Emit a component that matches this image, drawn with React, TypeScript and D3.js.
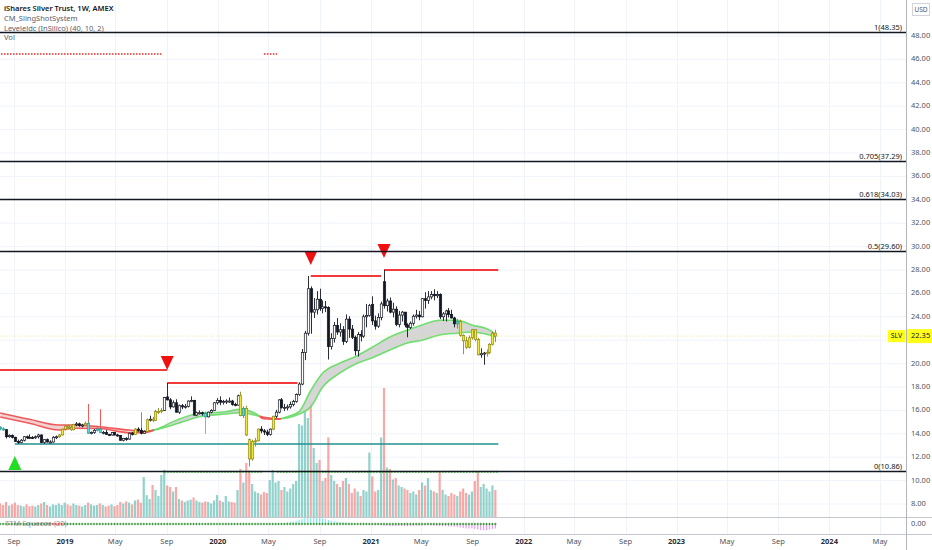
import React, { useEffect, useRef } from "react";
import * as d3 from "d3";

const W = 932;
const H = 550;

// weekly bars, first one is the week of 2018-07-30
const firstWeek = new Date(2018, 6, 30);

// [open, high, low, close] per week
const ohlc: [number, number, number, number][] = [
  [14.55, 14.65, 14.3, 14.42], [14.42, 14.55, 14.25, 14.35], [14.35, 14.4, 13.6, 13.75], [13.75, 13.95, 13.65, 13.85],
  [13.85, 13.95, 13.6, 13.7], [13.7, 13.75, 13.3, 13.35], [13.35, 13.5, 13.15, 13.25], [13.25, 13.55, 13.2, 13.45],
  [13.45, 13.8, 13.35, 13.75], [13.75, 13.85, 13.55, 13.7], // 10
  [13.7, 13.95, 13.6, 13.68], [13.68, 13.8, 13.55, 13.66], [13.66, 13.85, 13.55, 13.75], [13.75, 14.0, 13.6, 13.9],
  [13.9, 13.95, 13.2, 13.25], [13.25, 13.55, 13.15, 13.5], [13.5, 13.6, 13.25, 13.3], [13.3, 13.45, 13.2, 13.3],
  [13.3, 13.8, 13.25, 13.7], [13.7, 13.85, 13.55, 13.75], // 20
  [13.75, 14.0, 13.65, 13.9], [13.9, 14.45, 13.85, 14.4], [14.4, 14.75, 14.3, 14.65], [14.65, 14.8, 14.45, 14.55],
  [14.55, 14.7, 14.25, 14.35], [14.35, 14.85, 14.3, 14.8], [14.8, 15.0, 14.65, 14.85], [14.85, 14.95, 14.6, 14.7],
  [14.7, 14.85, 14.55, 14.75], [14.75, 15.05, 14.7, 14.9], // 30
  [14.9, 15.0, 14.0, 14.05], [14.05, 14.2, 13.95, 14.1], [14.1, 14.4, 14.0, 14.3], [14.3, 14.55, 14.2, 14.4],
  [14.4, 14.5, 14.05, 14.1], [14.1, 14.25, 13.95, 14.1], [14.1, 14.35, 13.9, 13.95], [13.95, 14.0, 13.8, 13.9],
  [13.9, 14.15, 13.85, 14.1], [14.1, 14.15, 13.85, 13.9], // 40
  [13.9, 14.0, 13.75, 13.85], [13.85, 13.9, 13.4, 13.45], [13.45, 13.65, 13.35, 13.6], [13.6, 13.7, 13.4, 13.55],
  [13.55, 14.1, 13.5, 14.05], [14.05, 14.15, 13.85, 13.95], [13.95, 14.5, 13.9, 14.4], [14.4, 14.55, 14.2, 14.3],
  [14.3, 14.5, 13.95, 14.05], [14.05, 14.3, 14.0, 14.2], // 50
  [14.2, 15.3, 14.15, 15.2], [15.2, 15.55, 15.05, 15.25], [15.25, 15.45, 15.0, 15.15], [15.15, 16.05, 15.1, 15.9],
  [15.9, 16.2, 15.7, 15.9], [15.9, 16.2, 15.75, 16.0], [16.0, 17.15, 15.95, 17.1], [17.15, 18.34, 16.85, 16.9],
  [16.9, 17.05, 16.1, 16.3], [16.3, 16.85, 16.25, 16.65], // 60
  [16.65, 16.95, 15.8, 15.85], [15.85, 16.5, 15.7, 16.4], [16.4, 16.55, 16.1, 16.3], [16.3, 16.55, 16.15, 16.35],
  [16.35, 16.85, 16.25, 16.8], [16.8, 17.2, 16.7, 16.85], [16.85, 16.9, 15.55, 15.6], [15.6, 15.9, 15.5, 15.8],
  [15.8, 16.0, 15.65, 15.8], [15.8, 15.9, 15.55, 15.75], // 70
  [15.75, 15.9, 15.4, 15.45], [15.45, 15.9, 15.4, 15.85], [15.85, 16.1, 15.75, 16.0], [16.0, 16.7, 15.95, 16.65],
  [16.65, 17.05, 16.5, 16.85], [16.85, 17.2, 16.45, 16.7], [16.7, 16.9, 16.5, 16.75], [16.75, 16.95, 16.55, 16.8],
  [16.8, 17.1, 16.65, 16.8], [16.8, 16.9, 16.4, 16.5], // 80
  [16.5, 16.65, 16.35, 16.45], [16.45, 17.35, 16.4, 17.25], [17.25, 17.6, 15.5, 15.55], [15.55, 16.35, 15.35, 16.15],
  [16.15, 16.4, 13.8, 13.9], [13.5, 13.6, 11.21, 11.85], [11.85, 13.5, 11.7, 13.35], [13.35, 13.65, 12.9, 13.4],
  [13.4, 14.45, 13.35, 14.4], [14.4, 14.65, 14.05, 14.25], // 90
  [14.25, 14.4, 13.9, 14.15], [14.15, 14.35, 13.8, 13.95], [13.95, 14.45, 13.85, 14.4], [14.4, 15.55, 14.3, 15.5],
  [15.5, 16.05, 15.35, 15.85], [15.85, 16.95, 15.75, 16.9], [16.9, 17.05, 16.15, 16.25], [16.25, 16.55, 15.95, 16.25],
  [16.25, 16.5, 16.0, 16.3], [16.3, 16.75, 16.15, 16.5], // 100
  [16.5, 16.9, 16.35, 16.75], [16.75, 17.45, 16.65, 17.35], [17.35, 18.4, 17.25, 18.25], [18.25, 21.25, 18.15, 20.95],
  [20.95, 22.8, 20.3, 22.6], [22.6, 27.49, 22.4, 26.4], [26.4, 26.6, 22.55, 24.4], [24.4, 25.6, 23.9, 24.6],
  [24.6, 26.2, 24.2, 25.5], [25.5, 26.4, 24.5, 24.7], // 110
  [24.7, 25.4, 24.3, 24.85], [24.85, 25.35, 24.4, 24.8], [24.8, 24.9, 20.35, 21.45], [21.45, 22.6, 21.2, 22.15],
  [22.15, 23.55, 21.8, 23.25], [23.25, 23.9, 22.45, 22.7], [22.7, 23.45, 22.3, 22.9], [22.9, 23.2, 21.6, 21.9],
  [21.9, 24.2, 21.75, 23.8], [23.8, 24.05, 22.2, 22.95], // 120
  [22.95, 23.3, 22.1, 22.25], [22.25, 22.4, 20.7, 21.1], [21.1, 22.7, 20.6, 22.5], [22.5, 22.85, 21.9, 22.35],
  [22.35, 24.2, 22.2, 24.0], [24.0, 25.1, 23.1, 24.1], [24.1, 25.1, 24.0, 24.95], [25.05, 25.75, 23.3, 23.65],
  [23.65, 24.1, 22.9, 23.2], [23.2, 24.3, 23.05, 23.95], // 130
  [23.95, 25.3, 23.7, 25.1], [27.0, 28.0, 24.7, 24.95], [24.95, 25.55, 24.45, 25.35], [25.35, 25.65, 24.3, 24.4],
  [24.4, 25.2, 23.95, 24.65], [24.65, 24.9, 23.2, 23.35], [23.35, 24.5, 23.1, 24.15], [24.15, 24.5, 23.6, 24.4],
  [24.4, 24.4, 23.1, 23.3], [23.3, 23.45, 22.25, 23.1], // 140
  [23.1, 23.6, 22.95, 23.45], [23.45, 24.2, 23.25, 24.05], [24.05, 24.6, 23.85, 24.15], [24.15, 24.5, 23.7, 24.0],
  [24.0, 25.6, 23.95, 25.55], [25.55, 26.1, 24.7, 25.4], [25.4, 26.2, 25.1, 25.7], [25.7, 26.2, 25.5, 25.9],
  [25.9, 26.35, 25.4, 25.8], [25.8, 26.2, 25.6, 25.9], // 150
  [25.9, 26.0, 23.8, 24.0], [24.0, 24.4, 23.65, 24.25], [24.25, 24.6, 23.6, 24.5], [24.5, 24.75, 23.95, 24.2],
  [24.2, 24.6, 23.85, 23.9], [23.9, 24.0, 23.1, 23.4], [23.4, 23.8, 23.0, 23.6], [23.6, 23.75, 22.3, 22.4],
  [22.4, 22.5, 20.8, 21.95], [21.95, 22.3, 21.25, 21.4], // 160
  [21.4, 22.4, 21.3, 22.2], [22.2, 22.95, 22.05, 22.9], [22.9, 22.95, 21.9, 22.05], [22.05, 22.2, 20.7, 20.75],
  [20.75, 21.3, 20.5, 20.85], [20.85, 21.0, 19.9, 20.9], [20.9, 21.2, 20.6, 20.95], [20.95, 21.75, 20.8, 21.65],
  [21.65, 22.75, 21.55, 22.6], [22.6, 22.9, 21.85, 22.35], // 170
];

// weekly volume, millions of shares
const volume = [
  45, 40, 50, 38, 42, 48, 40, 38, 35, 42,
  36, 38, 35, 40, 45, 50, 40, 35, 42, 40,
  45, 40, 48, 42, 38, 45, 40, 38, 35, 40,
  48, 42, 38, 40, 45, 40, 35, 38, 42, 36,
  40, 50, 45, 52, 48, 42, 55, 58, 48, 133,
  73, 60, 107, 90, 70, 140, 157, 105, 100, 85,
  100, 60, 55, 50, 55, 58, 65, 55, 50, 48,
  52, 50, 45, 55, 73, 55, 50, 70, 52, 50,
  48, 90, 160, 115, 180, 155, 110, 85, 80, 75,
  83, 80, 123, 157, 115, 120, 90, 100, 85, 95,
  110, 120, 310, 305, 350, 330, 380, 230, 180, 190,
  120, 130, 265, 140, 120, 110, 100, 120, 130, 110,
  80, 95, 85, 70, 90, 85, 215, 135, 85, 90,
  265, 430, 165, 160, 125, 130, 105, 100, 95, 90,
  80, 85, 75, 90, 115, 105, 130, 90, 85, 80,
  150, 90, 75, 70, 80, 75, 70, 85, 95, 80,
  75, 85, 120, 150, 100, 110, 95, 85, 105, 90,
];

// bar colouring from CM_SlingShotSystem
const tintRanges = [
  { from: 0, to: 1, tint: "aqua" },
  { from: 20, to: 25, tint: "yellow" },
  { from: 29, to: 29, tint: "yellow" },
  { from: 30, to: 30, tint: "aqua" },
  { from: 33, to: 34, tint: "aqua" },
  { from: 46, to: 46, tint: "yellow" },
  { from: 50, to: 50, tint: "yellow" },
  { from: 52, to: 55, tint: "yellow" },
  { from: 70, to: 70, tint: "aqua" },
  { from: 82, to: 82, tint: "yellow" },
  { from: 83, to: 83, tint: "aqua" },
  { from: 84, to: 88, tint: "yellow" },
  { from: 93, to: 93, tint: "yellow" },
  { from: 156, to: 156, tint: "aqua" },
  { from: 157, to: 163, tint: "yellow" },
  { from: 166, to: 169, tint: "yellow" },
];

// SlingShot EMA ribbon, read at these bar indexes
const ribbonIdx = [0, 10, 20, 25, 34, 44, 49, 54, 59, 68, 77, 82, 87, 90, 95, 98, 102, 106, 110, 116, 122, 127, 133, 139, 144, 150, 156, 161, 167, 169];
const ribbonFast = [15.44, 14.9, 14.32, 14.47, 14.45, 14.09, 14.09, 14.45, 15.04, 15.75, 15.89, 16.09, 15.75, 15.29, 15.24, 15.46, 15.89, 17.7, 19.17, 20.05, 20.7, 21.4, 22.27, 22.87, 23.3, 23.7, 23.7, 23.3, 22.87, 22.5];
const ribbonSlow = [15.78, 15.24, 14.75, 14.75, 14.6, 14.32, 14.2, 14.4, 14.75, 15.46, 15.69, 15.8, 15.6, 15.41, 15.29, 15.35, 15.69, 16.3, 17.97, 19.2, 20.05, 20.5, 21.17, 21.76, 22.0, 22.44, 22.6, 22.7, 22.44, 22.3];

// odd long wicks drawn by the SlingShot overlay
const spikes = [
  { i: 30, hi: 16.55, lo: 14.9, color: "#f05a5a" },
  { i: 34, hi: 16.1, lo: 14.32, color: "#f05a5a" },
  { i: 48, hi: 15.84, lo: 14.32, color: "#f05a5a" },
  { i: 70, hi: 15.7, lo: 13.98, color: "#5fdc5f" },
];

// Fibonacci levels
const fibLabels = ["1", "0.705", "0.618", "0.5", "0"];
const fibPrices = [48.35, 37.29, 34.03, 29.6, 10.86];

// LevelsIdc lines: bar range and price
const redLevels = [
  { from: -12, to: 57, price: 19.45 },
  { from: 57, to: 101.5, price: 18.34 },
  { from: 106, to: 130, price: 27.49 },
  { from: 131, to: 170, price: 28.0 },
];
const tealLevel = { from: 5, to: 170, price: 13.13 };
const greenDots = [
  { from: 56, to: 89.5, price: 10.76 },
  { from: 94.5, to: 170, price: 10.76 },
];
const redDots = [
  { from: -12, to: 55, price: 46.46 },
  { from: 90, to: 94.5, price: 46.46 },
];

// signal triangles: bar index and price of the tip
const sellSignals = [
  { i: 57, price: 19.45 },
  { i: 106, price: 28.43 },
  { i: 131, price: 29.03 },
];
const buySignals = [{ i: 5, price: 12.1 }];

// squeeze momentum from bar 96 on, squeeze "on" bars
const momentumStart = 96;
const momentum = [
  0.3, 0.5, 0.8, 1.0,
  1.3, 1.6, 2.0, 2.6, 3.0, 3.4, 3.3, 3.2, 3.1, 3.0,
  2.8, 2.5, 2.0, 1.6, 1.4, 1.2, 1.0, 0.8, 0.7, 0.5,
  0.3, 0.1, -0.2, -0.3, -0.2, -0.3, -0.4, -0.5, -0.6, -0.5,
  -0.6, -0.8, -0.9, -1.0, -1.0, -1.1, -1.0, -0.9, -1.0, -1.1,
  -1.0, -0.9, -0.8, -0.9, -0.8, -0.7, -0.6, -0.7, -0.8, -0.9,
  -1.0, -1.1, -1.0, -1.2, -1.3, -1.4, -1.5, -1.7, -2.0, -2.2,
  -2.3, -2.2, -2.5, -2.8, -3.0, -3.2, -3.1, -2.8, -2.5, -2.2,
];
const squeezeOn = { from: 18, to: 21 };

const priceTicks = d3.range(8, 50, 2);
const timeTicks = [
  "2018-09-01", "2019-01-01", "2019-05-01", "2019-09-01", "2020-01-01", "2020-05-01",
  "2020-09-01", "2021-01-01", "2021-05-01", "2021-09-01", "2022-01-01", "2022-05-01",
  "2022-09-01", "2023-01-01", "2023-05-01", "2023-09-01", "2024-01-01", "2024-05-01",
];
const legendLines = ["iShares Silver Trust, 1W, AMEX", "CM_SlingShotSystem", "Leveleldc (InSilico) (40, 10, 2)", "Vol"];
const lastPrice = 22.35;

const tintStyle: Record<string, { fill: string; stroke: string }> = {
  yellow: { fill: "#f2e633", stroke: "#8f8a1c" },
  aqua: { fill: "#62d6d6", stroke: "#2b9c9c" },
};

export default function App() {
  const ref = useRef<SVGSVGElement | null>(null);

  useEffect(() => {
    if (!ref.current) return;
    const svg = d3.select(ref.current);
    svg.selectAll("*").remove();

    const font = "'Noto Sans', 'DejaVu Sans', sans-serif";
    const plotR = 906;
    const mainB = 517;
    const sqzB = 534;

    const parse = d3.timeParse("%Y-%m-%d");
    const x = d3.scaleTime().domain([new Date(2018, 8, 1), new Date(2024, 4, 1)]).range([14, 880]);
    const y = d3.scaleLinear().domain([8, 48]).range([504, 36]);
    const vy = d3.scaleLinear().domain([0, 100]).range([mainB, mainB - 30]);
    const my = d3.scaleLinear().domain([-4, 4]).range([532, 516]);
    const bx = (i: number) => x(new Date(firstWeek.getTime() + i * 7 * 864e5));
    const tintOf = (i: number) => {
      const r = tintRanges.find(t => i >= t.from && i <= t.to);
      return r ? r.tint : null;
    };

    svg.append("rect").attr("width", W).attr("height", H).attr("fill", "#ffffff");

    const defs = svg.append("defs");
    defs.append("clipPath").attr("id", "main-clip")
      .append("rect").attr("x", 0).attr("y", 0).attr("width", plotR).attr("height", mainB);
    defs.append("clipPath").attr("id", "sqz-clip")
      .append("rect").attr("x", 0).attr("y", mainB).attr("width", plotR).attr("height", sqzB - mainB);

    // grid
    const grid = svg.append("g");
    priceTicks.forEach(p => {
      grid.append("line").attr("x1", 0).attr("x2", plotR).attr("y1", y(p)).attr("y2", y(p))
        .attr("stroke", "#f0f3fa").attr("stroke-width", 1);
    });
    timeTicks.forEach(t => {
      const tx = Math.round(x(parse(t)!)) + 0.5;
      grid.append("line").attr("x1", tx).attr("x2", tx).attr("y1", 0).attr("y2", sqzB)
        .attr("stroke", "#f0f3fa").attr("stroke-width", 1);
    });

    const main = svg.append("g").attr("clip-path", "url(#main-clip)");

    // volume overlay
    ohlc.forEach(([o, , , c], i) => {
      const vx = bx(i);
      main.append("rect")
        .attr("x", vx - 1.1).attr("width", 2.2)
        .attr("y", vy(volume[i])).attr("height", mainB - vy(volume[i]))
        .attr("fill", c >= o ? "rgba(38,166,154,0.5)" : "rgba(239,83,80,0.5)");
    });

    // ribbon
    const ribbon = ribbonIdx.map((i, k) => ({ i, fast: ribbonFast[k], slow: ribbonSlow[k] }));
    const stops: { off: number; up: boolean }[] = [];
    let prevUp = ribbon[0].fast >= ribbon[0].slow;
    stops.push({ off: 0, up: prevUp });
    for (let k = 1; k < ribbon.length; k++) {
      const up = ribbon[k].fast >= ribbon[k].slow;
      if (up !== prevUp) {
        const d0 = ribbon[k - 1].fast - ribbon[k - 1].slow;
        const d1 = ribbon[k].fast - ribbon[k].slow;
        const t = d0 / (d0 - d1);
        const ci = ribbon[k - 1].i + t * (ribbon[k].i - ribbon[k - 1].i);
        stops.push({ off: bx(ci) / plotR, up });
        prevUp = up;
      }
    }
    const makeGrad = (id: string, upCol: string, dnCol: string) => {
      const g = defs.append("linearGradient").attr("id", id)
        .attr("gradientUnits", "userSpaceOnUse").attr("x1", 0).attr("x2", plotR).attr("y1", 0).attr("y2", 0);
      stops.forEach((s, k) => {
        const col = s.up ? upCol : dnCol;
        g.append("stop").attr("offset", s.off).attr("stop-color", col);
        const end = k + 1 < stops.length ? stops[k + 1].off : 1;
        g.append("stop").attr("offset", end).attr("stop-color", col);
      });
    };
    makeGrad("rib-line", "#62dd62", "#ef4a4a");
    makeGrad("rib-fill", "#cfcfcf", "#efc9c9");

    const area = d3.area<{ i: number; fast: number; slow: number }>()
      .x(d => bx(d.i)).y0(d => y(d.slow)).y1(d => y(d.fast)).curve(d3.curveMonotoneX);
    main.append("path").attr("d", area(ribbon) || "").attr("fill", "url(#rib-fill)").attr("opacity", 0.85);
    (["fast", "slow"] as const).forEach(key => {
      const line = d3.line<{ i: number; fast: number; slow: number }>()
        .x(d => bx(d.i)).y(d => y(d[key])).curve(d3.curveMonotoneX);
      main.append("path").attr("d", line(ribbon) || "").attr("fill", "none")
        .attr("stroke", "url(#rib-line)").attr("stroke-width", 1.6).attr("opacity", 0.9);
    });

    // fib lines
    fibPrices.forEach((p, k) => {
      const ly = Math.round(y(p)) + 0.5;
      svg.append("line").attr("x1", 0).attr("x2", plotR).attr("y1", ly).attr("y2", ly)
        .attr("stroke", "#131722").attr("stroke-width", 1.3);
      svg.append("text").attr("x", 902).attr("y", ly - 2.5).attr("text-anchor", "end")
        .attr("font-family", font).attr("font-size", 7.5).attr("fill", "#131722")
        .text(`${fibLabels[k]}(${p.toFixed(2)})`);
    });

    // level lines
    redLevels.forEach(l => {
      main.append("line").attr("x1", bx(l.from)).attr("x2", bx(l.to)).attr("y1", y(l.price)).attr("y2", y(l.price))
        .attr("stroke", "#f23a3a").attr("stroke-width", 2);
    });
    main.append("line").attr("x1", bx(tealLevel.from)).attr("x2", bx(tealLevel.to))
      .attr("y1", y(tealLevel.price)).attr("y2", y(tealLevel.price))
      .attr("stroke", "#23908f").attr("stroke-width", 1.4);
    greenDots.forEach(l => {
      main.append("line").attr("x1", bx(l.from)).attr("x2", bx(l.to)).attr("y1", y(l.price)).attr("y2", y(l.price))
        .attr("stroke", "#33cc33").attr("stroke-width", 2).attr("stroke-dasharray", "1.5,1.5");
    });
    redDots.forEach(l => {
      main.append("line").attr("x1", bx(l.from)).attr("x2", bx(l.to)).attr("y1", y(l.price)).attr("y2", y(l.price))
        .attr("stroke", "#ee2222").attr("stroke-width", 1.6).attr("stroke-dasharray", "1.5,1.5");
    });

    // last price line
    main.append("line").attr("x1", 0).attr("x2", plotR).attr("y1", y(lastPrice)).attr("y2", y(lastPrice))
      .attr("stroke", "#e8e060").attr("stroke-width", 1).attr("stroke-dasharray", "1,2").attr("opacity", 0.6);

    // spikes
    spikes.forEach(s => {
      const sx = Math.round(bx(s.i)) + 0.5;
      main.append("line").attr("x1", sx).attr("x2", sx).attr("y1", y(s.hi)).attr("y2", y(s.lo))
        .attr("stroke", s.color).attr("stroke-width", 1);
    });

    // candles
    ohlc.forEach(([o, h, l, c], i) => {
      const cx = Math.round(bx(i)) + 0.5;
      const tint = tintOf(i);
      const st = tint ? tintStyle[tint] : null;
      main.append("line").attr("x1", cx).attr("x2", cx).attr("y1", y(h)).attr("y2", y(l))
        .attr("stroke", st ? st.stroke : "#131722").attr("stroke-width", 0.9);
      const top = y(Math.max(o, c));
      const bh = Math.max(1, Math.abs(y(o) - y(c)));
      main.append("rect").attr("x", cx - 1.2).attr("width", 2.4).attr("y", top).attr("height", bh)
        .attr("fill", st ? st.fill : c >= o ? "#ffffff" : "#131722")
        .attr("stroke", st ? st.stroke : "#131722").attr("stroke-width", 0.7);
    });

    // triangles
    const tw = 6.5;
    const th = 14;
    sellSignals.forEach(s => {
      const sx = bx(s.i);
      const sy = y(s.price);
      main.append("path").attr("d", `M${sx - tw},${sy - th}L${sx + tw},${sy - th}L${sx},${sy}Z`).attr("fill", "#f01010");
    });
    buySignals.forEach(s => {
      const sx = bx(s.i);
      const sy = y(s.price);
      main.append("path").attr("d", `M${sx - tw},${sy + th}L${sx + tw},${sy + th}L${sx},${sy}Z`).attr("fill", "#22dd22");
    });

    // squeeze pane
    const sq = svg.append("g").attr("clip-path", "url(#sqz-clip)");
    momentum.forEach((m, k) => {
      const i = momentumStart + k;
      const mx = bx(i);
      sq.append("rect").attr("x", mx - 0.6).attr("width", 1.2)
        .attr("y", Math.min(my(m), my(0))).attr("height", Math.abs(my(m) - my(0)))
        .attr("fill", m >= 0 ? "#22d3e0" : "#d63cf0").attr("opacity", m >= 0 ? 0.55 : 0.5);
    });
    ohlc.forEach((_, i) => {
      const qx = bx(i);
      const on = i >= squeezeOn.from && i <= squeezeOn.to;
      const col = on ? "#ee3333" : "#2f8f2f";
      sq.append("line").attr("x1", qx - 1.2).attr("x2", qx + 1.2).attr("y1", my(0)).attr("y2", my(0))
        .attr("stroke", col).attr("stroke-width", 0.9);
      sq.append("line").attr("x1", qx).attr("x2", qx).attr("y1", my(0) - 1.2).attr("y2", my(0) + 1.2)
        .attr("stroke", col).attr("stroke-width", 0.9);
    });
    svg.append("text").attr("x", 5).attr("y", my(0)).attr("dominant-baseline", "middle")
      .attr("font-family", font).attr("font-size", 7.5).attr("fill", "#6a6d78").attr("opacity", 0.7)
      .text("TTM Squeeze (20)");

    // pane frames
    [mainB, sqzB].forEach(py => {
      svg.append("line").attr("x1", 0).attr("x2", W).attr("y1", py + 0.5).attr("y2", py + 0.5)
        .attr("stroke", "#c4c7ce").attr("stroke-width", 1);
    });
    svg.append("line").attr("x1", plotR + 0.5).attr("x2", plotR + 0.5).attr("y1", 0).attr("y2", H)
      .attr("stroke", "#b2b5be").attr("stroke-width", 1);

    // price axis (labels hidden behind the last price tag are skipped)
    const ly = y(lastPrice);
    priceTicks.forEach(p => {
      if (Math.abs(y(p) - ly) < 10) return;
      svg.append("text").attr("x", 911).attr("y", y(p)).attr("dominant-baseline", "middle")
        .attr("font-family", font).attr("font-size", 7.5).attr("fill", "#50535e").text(p.toFixed(2));
    });
    svg.append("text").attr("x", 911).attr("y", my(0)).attr("dominant-baseline", "middle")
      .attr("font-family", font).attr("font-size", 7.5).attr("fill", "#50535e").text((0).toFixed(2));

    // last price tags
    svg.append("rect").attr("x", 888).attr("y", ly - 6).attr("width", 17).attr("height", 12).attr("fill", "#ffff1a");
    svg.append("text").attr("x", 896.5).attr("y", ly).attr("text-anchor", "middle").attr("dominant-baseline", "middle")
      .attr("font-family", font).attr("font-size", 7).attr("fill", "#131722").text("SLV");
    svg.append("rect").attr("x", 907).attr("y", ly - 7).attr("width", 25).attr("height", 14).attr("fill", "#ffff1a");
    svg.append("text").attr("x", 911).attr("y", ly).attr("dominant-baseline", "middle")
      .attr("font-family", font).attr("font-size", 7.5).attr("fill", "#131722").text(lastPrice.toFixed(2));

    // currency box
    svg.append("rect").attr("x", 912.5).attr("y", 3.5).attr("width", 17).attr("height", 12)
      .attr("fill", "#ffffff").attr("stroke", "#d1d4dc");
    svg.append("text").attr("x", 921).attr("y", 9.8).attr("text-anchor", "middle").attr("dominant-baseline", "middle")
      .attr("font-family", font).attr("font-size", 6.5).attr("fill", "#50535e").text("USD");

    // time axis
    timeTicks.forEach(t => {
      const d = parse(t)!;
      const isYear = d.getMonth() === 0;
      svg.append("text").attr("x", x(d)).attr("y", 542).attr("text-anchor", "middle").attr("dominant-baseline", "middle")
        .attr("font-family", font).attr("font-size", 7.5)
        .attr("font-weight", isYear ? 700 : 400)
        .attr("fill", isYear ? "#2a2e39" : "#50535e")
        .text(isYear ? d3.timeFormat("%Y")(d) : d3.timeFormat("%b")(d));
    });

    // legend
    legendLines.forEach((txt, k) => {
      svg.append("text").attr("x", 4).attr("y", [9, 19, 28.5, 38][k]).attr("dominant-baseline", "middle")
        .attr("font-family", font).attr("font-size", 7.5)
        .attr("font-weight", k === 0 ? 600 : 400)
        .attr("fill", k === 0 ? "#131722" : "#5d606b").text(txt);
    });
  }, []);

  return (
    <svg ref={ref} width={W} height={H} style={{ position: "absolute", left: 0, top: 0, display: "block" }} />
  );
}
